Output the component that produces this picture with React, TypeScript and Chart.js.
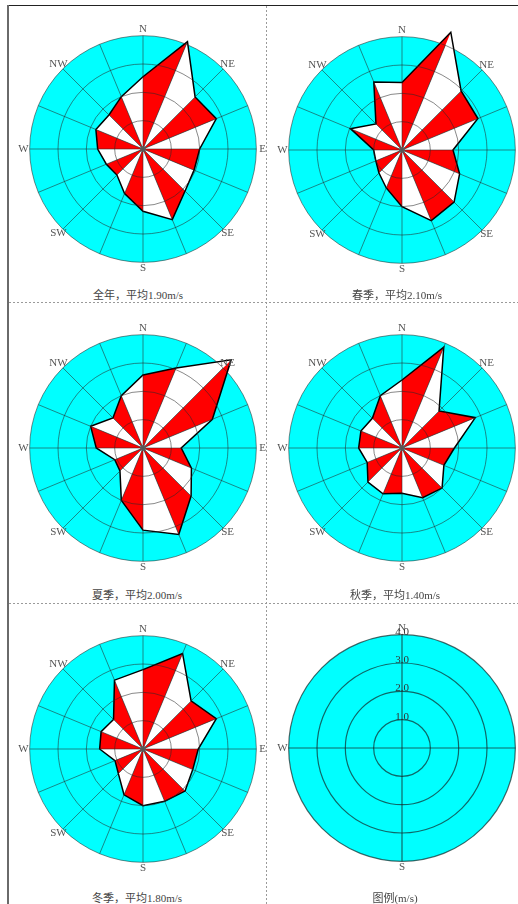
import React, { useEffect, useRef } from 'react';
import { Chart, registerables } from 'chart.js';

Chart.register(...registerables);

// ---- data ----
const directionLabels = ['N', '', 'NE', '', 'E', '', 'SE', '', 'S', '', 'SW', '', 'W', '', 'NW', ''];
// 16 directions clockwise from N: N NNE NE ENE E ESE SE SSE S SSW SW WSW W WNW NW NNW
const annualSpeed = [2.55, 4.1, 2.6, 2.8, 2.0, 1.95, 2.1, 2.7, 2.2, 1.7, 1.3, 1.4, 1.6, 1.8, 1.7, 2.0];
const springSpeed = [2.38, 4.5, 2.95, 2.9, 1.8, 2.2, 2.6, 2.7, 2.0, 1.45, 1.15, 1.0, 1.0, 1.97, 1.3, 2.6];
const summerSpeed = [2.58, 3.06, 4.4, 2.65, 1.35, 1.85, 2.4, 3.3, 2.9, 2.0, 1.15, 1.08, 1.65, 2.0, 1.5, 2.0];
const autumnSpeed = [2.4, 3.85, 1.85, 2.8, 1.85, 1.6, 2.0, 1.9, 1.6, 1.75, 1.7, 1.33, 1.53, 1.57, 1.48, 2.0];
const winterSpeed = [2.8, 3.65, 2.4, 2.8, 1.95, 1.9, 2.1, 2.0, 2.0, 1.75, 1.23, 1.07, 1.53, 1.6, 1.47, 2.63];
const legendDirections = ['N', 'E', 'S', 'W'];
const ringValues = [1, 2, 3, 4];
const legendTickLabels = ['1.0', '2.0', '3.0', '4.0'];
const captions = [
  '全年，平均1.90m/s',
  '春季，平均2.10m/s',
  '夏季，平均2.00m/s',
  '秋季，平均1.40m/s',
  '冬季，平均1.80m/s',
  '图例(m/s)',
];

// ---- scale constants ----
const SCALE_MAX = 4.8;
const RING_MAX = 4;
const LABEL_VALUE = 4.22;
const CANVAS = 272;

const roseDecor = {
  id: 'roseDecor',
  beforeDatasetsDraw(chart: any) {
    const s = chart.scales.r;
    const ctx = chart.ctx;
    const R = s.getDistanceFromCenterForValue(RING_MAX);
    ctx.save();
    ctx.beginPath();
    ctx.arc(s.xCenter, s.yCenter, R, 0, Math.PI * 2);
    ctx.fillStyle = '#00ffff';
    ctx.fill();
    ctx.restore();
  },
  afterDatasetsDraw(chart: any, _args: any, opts: any) {
    const s = chart.scales.r;
    const ctx = chart.ctx;
    const labels: string[] = chart.data.labels;
    ctx.save();
    ctx.strokeStyle = opts.lineColor;
    ctx.lineWidth = opts.lineWidth;
    ringValues.forEach((v) => {
      ctx.beginPath();
      ctx.arc(s.xCenter, s.yCenter, s.getDistanceFromCenterForValue(v), 0, Math.PI * 2);
      ctx.stroke();
    });
    labels.forEach((_l, i) => {
      const p = s.getPointPositionForValue(i, RING_MAX);
      ctx.beginPath();
      ctx.moveTo(s.xCenter, s.yCenter);
      ctx.lineTo(p.x, p.y);
      ctx.stroke();
    });
    if (opts.dot) {
      ctx.beginPath();
      ctx.arc(s.xCenter, s.yCenter, 3, 0, Math.PI * 2);
      ctx.fillStyle = 'rgba(90,90,90,0.9)';
      ctx.fill();
    }
    ctx.font = '11px "Liberation Serif", serif';
    ctx.fillStyle = '#555';
    ctx.textAlign = 'center';
    ctx.textBaseline = 'middle';
    labels.forEach((lab, i) => {
      if (!lab) return;
      const p = s.getPointPositionForValue(i, LABEL_VALUE);
      ctx.fillText(lab, p.x, p.y);
    });
    if (opts.tickLabels) {
      ctx.font = '11px "Liberation Serif", serif';
      ctx.fillStyle = '#333';
      ringValues.forEach((v, k) => {
        const d = s.getDistanceFromCenterForValue(v);
        ctx.fillText(opts.tickLabels[k], s.xCenter, s.yCenter - d - 3);
      });
    }
    ctx.restore();
  },
};

type RoseProps = {
  labels: string[];
  values: number[] | null;
  cx: number;
  cy: number;
  legend?: boolean;
};

function RoseChart({ labels, values, cx, cy, legend }: RoseProps) {
  const ref = useRef<HTMLCanvasElement>(null);
  useEffect(() => {
    const datasets: any[] = [];
    if (values) {
      datasets.push({
        data: values,
        fill: false,
        borderColor: '#000',
        borderWidth: 1.5,
        pointRadius: 0,
        pointHoverRadius: 0,
        order: 0,
        clip: false,
      });
      values.forEach((_v, i) => {
        const j = (i + 1) % values.length;
        datasets.push({
          data: values.map((v, k) => (k === i || k === j ? v : 0)),
          fill: 'origin',
          backgroundColor: i % 2 === 0 ? '#ff0000' : '#ffffff',
          borderColor: 'rgba(0,0,0,0)',
          borderWidth: 0,
          pointRadius: 0,
          pointHoverRadius: 0,
          order: 1,
          clip: false,
        });
      });
    }
    const chart = new Chart(ref.current as HTMLCanvasElement, {
      type: 'radar',
      data: { labels, datasets },
      options: {
        responsive: false,
        animation: false,
        events: [],
        layout: { padding: 0 },
        elements: { line: { tension: 0 } },
        plugins: {
          legend: { display: false },
          tooltip: { enabled: false },
          roseDecor: {
            lineColor: legend ? 'rgba(20,40,40,0.7)' : 'rgba(40,40,40,0.55)',
            lineWidth: legend ? 1.2 : 1,
            dot: !legend,
            tickLabels: legend ? legendTickLabels : null,
          },
        } as any,
        scales: {
          r: {
            min: 0,
            max: SCALE_MAX,
            startAngle: 0,
            ticks: { display: false, stepSize: 1 },
            grid: { display: false },
            angleLines: { display: false },
            pointLabels: { display: false },
          },
        },
      },
      plugins: [roseDecor as any],
    });
    return () => chart.destroy();
  }, []);
  return (
    <canvas
      ref={ref}
      width={CANVAS}
      height={CANVAS}
      style={{ position: 'absolute', left: cx - CANVAS / 2, top: cy - CANVAS / 2, width: CANVAS, height: CANVAS }}
    />
  );
}

const panels = [
  { values: annualSpeed, cx: 143, cy: 149, capX: 138, capY: 295 },
  { values: springSpeed, cx: 402, cy: 150, capX: 397, capY: 295 },
  { values: summerSpeed, cx: 143, cy: 448, capX: 137, capY: 595 },
  { values: autumnSpeed, cx: 402, cy: 448, capX: 395, capY: 595 },
  { values: winterSpeed, cx: 143, cy: 749, capX: 137, capY: 898 },
  { values: null, cx: 402, cy: 748, capX: 395, capY: 898 },
];

export default function App() {
  const dashV = 'repeating-linear-gradient(to bottom, #9a9a9a 0 2px, transparent 2px 4px)';
  const dashH = 'repeating-linear-gradient(to right, #9a9a9a 0 2px, transparent 2px 4px)';
  return (
    <div style={{ position: 'absolute', left: 0, top: 0, width: 518, height: 904, overflow: 'hidden', background: '#fff' }}>
      <div style={{ position: 'absolute', left: 8, top: 5, width: 510, height: 1, background: '#222' }} />
      <div style={{ position: 'absolute', left: 7, top: 5, width: 2, height: 899, background: '#6a6a6a' }} />
      <div style={{ position: 'absolute', left: 266, top: 6, width: 1, height: 898, background: dashV }} />
      <div style={{ position: 'absolute', left: 9, top: 302, width: 509, height: 1, background: dashH }} />
      <div style={{ position: 'absolute', left: 9, top: 603, width: 509, height: 1, background: dashH }} />
      {panels.map((p, i) => (
        <RoseChart
          key={i}
          labels={p.values ? directionLabels : legendDirections}
          values={p.values}
          cx={p.cx}
          cy={p.cy}
          legend={!p.values}
        />
      ))}
      {panels.map((p, i) => (
        <div
          key={'c' + i}
          style={{
            position: 'absolute',
            left: p.capX,
            top: p.capY - 7,
            transform: 'translateX(-50%)',
            whiteSpace: 'nowrap',
            fontSize: 11,
            lineHeight: '14px',
            color: '#444',
            fontFamily: '"Liberation Serif", "Noto Sans CJK SC", serif',
          }}
        >
          {captions[i]}
        </div>
      ))}
    </div>
  );
}
